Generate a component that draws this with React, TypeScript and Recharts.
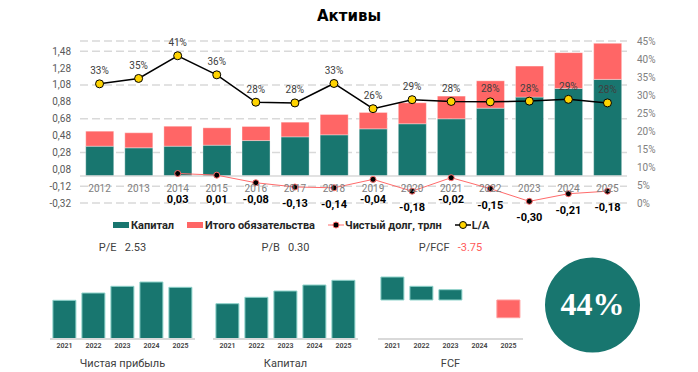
import React from 'react';
import {
  ComposedChart, BarChart, PieChart, Pie, Cell, Bar, Line, XAxis, YAxis,
  CartesianGrid, ReferenceLine, LabelList, Label,
} from 'recharts';

// ---------- main chart data ----------
const years = ['2012', '2013', '2014', '2015', '2016', '2017', '2018', '2019', '2020', '2021', '2022', '2023', '2024', '2025'];
const capital = [0.353, 0.334, 0.353, 0.365, 0.42, 0.464, 0.488, 0.559, 0.619, 0.678, 0.804, 0.935, 1.038, 1.145];
const liabilities = [0.178, 0.178, 0.237, 0.206, 0.167, 0.174, 0.241, 0.194, 0.249, 0.269, 0.324, 0.368, 0.424, 0.427];
const netDebt: (number | null)[] = [null, null, 0.03, 0.01, -0.08, -0.13, -0.14, -0.04, -0.18, -0.02, -0.15, -0.3, -0.21, -0.18];
const laRatio = [33.1, 34.6, 40.9, 35.6, 28.0, 27.8, 33.2, 26.2, 28.7, 28.2, 28.1, 28.3, 28.8, 27.8];
const leftTicks = [-0.32, -0.12, 0.08, 0.28, 0.48, 0.68, 0.88, 1.08, 1.28, 1.48];
const rightTicks = [0, 5, 10, 15, 20, 25, 30, 35, 40, 45];

// ---------- small charts data ----------
const smallYears = ['2021', '2022', '2023', '2024', '2025'];
const netProfit = [38.7, 46, 52.7, 57, 51.7];
const equitySmall = [35.3, 41.7, 48, 54, 58.7];
const fcf: (number | null)[] = [23, 13.7, 10.3, null, -17.7];
const peValue = '2.53';
const pbValue = '0.30';
const pfcfValue = '-3.75';
const scoreValue = 44;

// ---------- styles ----------
const TEAL = '#18766F';
const RED = '#FF6666';
const FONT = 'Roboto, "Noto Sans", sans-serif';
const NARROW = '"Liberation Sans Narrow", "Arial Narrow", Roboto, sans-serif';

const W = 698;
const H = 240;
const TOP = 41;
const XAXIS_H = 37;
const LEFT_W = 80;
const RIGHT_W = 71;
const LEFT_DOMAIN: [number, number] = [-0.32, 1.6];
const PLOT_H = H - TOP - XAXIS_H;
const ZERO_Y = TOP + (PLOT_H * LEFT_DOMAIN[1]) / (LEFT_DOMAIN[1] - LEFT_DOMAIN[0]);

const mainData = years.map((y, i) => ({
  year: y,
  capital: capital[i],
  liabilities: liabilities[i],
  netDebt: netDebt[i],
  la: laRatio[i],
}));

const fmtComma = (v: number) => v.toFixed(2).replace('.', ',');

const YearTick = (props: any) => {
  const { x, payload } = props;
  return (
    <text x={x} y={ZERO_Y + 15.5} textAnchor="middle" fontSize={10} fontFamily={FONT} fill="#808080">
      {payload.value}
    </text>
  );
};

// labels sit below the point, but never on top of the category labels row
const DebtLabel = (props: any) => {
  const { x, y, value } = props;
  if (value === null || value === undefined) return null;
  const centre = Math.max(y + 16, ZERO_Y + 23);
  return (
    <text x={x} y={centre + 4} textAnchor="middle" fontSize={11} fontWeight={700} fontFamily={NARROW} fill="#000">
      {fmtComma(value)}
    </text>
  );
};

const LaLabel = (props: any) => {
  const { x, y, value } = props;
  return (
    <text x={x} y={y - 9.5} textAnchor="middle" fontSize={10} fontFamily={FONT} fill="#404040">
      {Math.round(value) + '%'}
    </text>
  );
};

const MainChart = () => (
  <ComposedChart
    width={W}
    height={H}
    data={mainData}
    margin={{ top: TOP, right: 0, bottom: 0, left: 0 }}
    barCategoryGap="14.7%"
  >
    <CartesianGrid yAxisId="left" vertical={false} stroke="#d9d9d9" strokeDasharray="8 4" strokeWidth={1.5} />
    <XAxis dataKey="year" height={XAXIS_H} axisLine={false} tickLine={false} tick={<YearTick />} interval={0} />
    <YAxis
      yAxisId="left"
      orientation="left"
      width={LEFT_W}
      domain={LEFT_DOMAIN}
      ticks={leftTicks}
      axisLine={false}
      tickLine={false}
      tickMargin={3}
      tickFormatter={fmtComma}
      tick={{ fontSize: 10, fill: '#595959', fontFamily: FONT }}
    />
    <YAxis
      yAxisId="right"
      orientation="right"
      width={RIGHT_W}
      domain={[0, 45]}
      ticks={rightTicks}
      axisLine={false}
      tickLine={false}
      tickMargin={4}
      tickFormatter={(v: number) => v + '%'}
      tick={{ fontSize: 10, fill: '#808080', fontFamily: FONT, textAnchor: 'start' }}
    />
    <ReferenceLine yAxisId="left" y={0} stroke="#d9d9d9" strokeWidth={1.5} />
    <Bar yAxisId="left" dataKey="capital" stackId="a" fill={TEAL} stroke="#ffffff" strokeOpacity={0.35} isAnimationActive={false} />
    <Bar yAxisId="left" dataKey="liabilities" stackId="a" fill={RED} stroke="#ffffff" strokeOpacity={0.35} isAnimationActive={false} />
    <Line
      yAxisId="left"
      dataKey="netDebt"
      stroke="#FF6B6B"
      strokeWidth={1}
      dot={{ r: 3, fill: '#000', stroke: '#FF6B6B', strokeWidth: 1 }}
      activeDot={false}
      isAnimationActive={false}
      connectNulls={false}
    >
      <LabelList dataKey="netDebt" content={<DebtLabel />} />
    </Line>
    <Line
      yAxisId="right"
      dataKey="la"
      stroke="#000"
      strokeWidth={1.5}
      dot={{ r: 4, fill: '#FFD400', stroke: '#000', strokeWidth: 1 }}
      activeDot={false}
      isAnimationActive={false}
    >
      <LabelList dataKey="la" content={<LaLabel />} />
    </Line>
  </ComposedChart>
);

const Legend = () => (
  <div
    style={{
      position: 'absolute', left: 113, top: 218, height: 14, display: 'flex', alignItems: 'center', gap: 13,
      fontFamily: NARROW, fontWeight: 700, fontSize: 11, color: '#262626', whiteSpace: 'nowrap',
    }}
  >
    <span style={{ display: 'flex', alignItems: 'center', gap: 2 }}>
      <span style={{ display: 'inline-block', width: 16, height: 6, background: TEAL }} />Капитал
    </span>
    <span style={{ display: 'flex', alignItems: 'center', gap: 2 }}>
      <span style={{ display: 'inline-block', width: 16, height: 6, background: RED }} />Итого обязательства
    </span>
    <span style={{ display: 'flex', alignItems: 'center', gap: 1 }}>
      <svg width={16} height={8}>
        <line x1={0} y1={4} x2={16} y2={4} stroke="#FF6B6B" strokeWidth={1} />
        <circle cx={8} cy={4} r={3} fill="#000" stroke="#FF6B6B" strokeWidth={1} />
      </svg>
      Чистый долг, трлн
    </span>
    <span style={{ display: 'flex', alignItems: 'center', gap: 1 }}>
      <svg width={16} height={10}>
        <line x1={0} y1={5} x2={16} y2={5} stroke="#000" strokeWidth={1.5} />
        <circle cx={8} cy={5} r={3.5} fill="#FFD400" stroke="#000" strokeWidth={1} />
      </svg>
      L/A
    </span>
  </div>
);

type SmallProps = {
  left: number;
  label: string;
  value: string;
  valueColor: string;
  caption: string;
  values: (number | null)[];
  domain: [number, number];
};

const SmallChart = ({ left, label, value, valueColor, caption, values, domain }: SmallProps) => {
  const data = smallYears.map((y, i) => ({ year: y, v: values[i] }));
  const width = 165;
  return (
    <div style={{ position: 'absolute', left, top: 240, width }}>
      <div style={{ height: 16, lineHeight: '16px', textAlign: 'center', fontFamily: FONT, fontSize: 11, color: '#404040', whiteSpace: 'pre' }}>
        {label}
        {'   '}
        <span style={{ color: valueColor }}>{value}</span>
      </div>
      <BarChart width={width} height={99} data={data} margin={{ top: 4, right: 10, bottom: 0, left: 10 }} barCategoryGap="10%">
        <XAxis
          dataKey="year"
          height={16}
          axisLine={{ stroke: '#d9d9d9', strokeWidth: 2 }}
          tickLine={false}
          tickSize={0}
          tickMargin={4}
          interval={0}
          tick={{ fontSize: 7, fill: '#404040', fontFamily: FONT, fontWeight: 600 }}
        />
        <YAxis hide domain={domain} />
        <Bar dataKey="v" isAnimationActive={false} strokeWidth={1}>
          {data.map((d, i) => (
            <Cell
              key={i}
              fill={d.v !== null && d.v < 0 ? RED : TEAL}
              stroke={d.v !== null && d.v < 0 ? '#ff9a9a' : '#8fd3cb'}
            />
          ))}
        </Bar>
      </BarChart>
      <div style={{ height: 18, lineHeight: '18px', textAlign: 'center', fontFamily: FONT, fontSize: 11, color: '#404040' }}>
        {caption}
      </div>
    </div>
  );
};

const Badge = () => (
  <div style={{ position: 'absolute', left: 542, top: 255 }}>
    <PieChart width={101} height={101} margin={{ top: 0, right: 0, bottom: 0, left: 0 }}>
      <Pie
        data={[{ name: 'score', value: 100 }]}
        dataKey="value"
        cx={50.5}
        cy={50}
        outerRadius={47.5}
        innerRadius={0}
        stroke="none"
        isAnimationActive={false}
      >
        <Cell fill={TEAL} />
        <Label
          position="center"
          value={scoreValue + '%'}
          fill="#ffffff"
          fontSize={32}
          fontWeight={700}
          dy={-2}
          fontFamily='"Liberation Serif", "DejaVu Serif", serif'
        />
      </Pie>
    </PieChart>
  </div>
);

export default function App() {
  return (
    <div style={{ position: 'absolute', left: 0, top: 0, width: W, height: 372, background: '#fff', overflow: 'hidden' }}>
      <div
        style={{
          position: 'absolute', left: 0, top: 6, width: W, textAlign: 'center',
          fontFamily: '"DejaVu Sans", sans-serif', fontWeight: 700, fontSize: 15, color: '#000', lineHeight: '20px',
        }}
      >
        Активы
      </div>
      <div style={{ position: 'absolute', left: 0, top: 0 }}>
        <MainChart />
      </div>
      <Legend />
      <SmallChart left={40} label="P/E" value={peValue} valueColor="#404040" caption="Чистая прибыль" values={netProfit} domain={[0, 79]} />
      <SmallChart left={203} label="P/B" value={pbValue} valueColor="#404040" caption="Капитал" values={equitySmall} domain={[0, 79]} />
      <SmallChart left={368} label="P/FCF" value={pfcfValue} valueColor="#FF5A5A" caption="FCF" values={fcf} domain={[-39, 40]} />
      <Badge />
    </div>
  );
}
